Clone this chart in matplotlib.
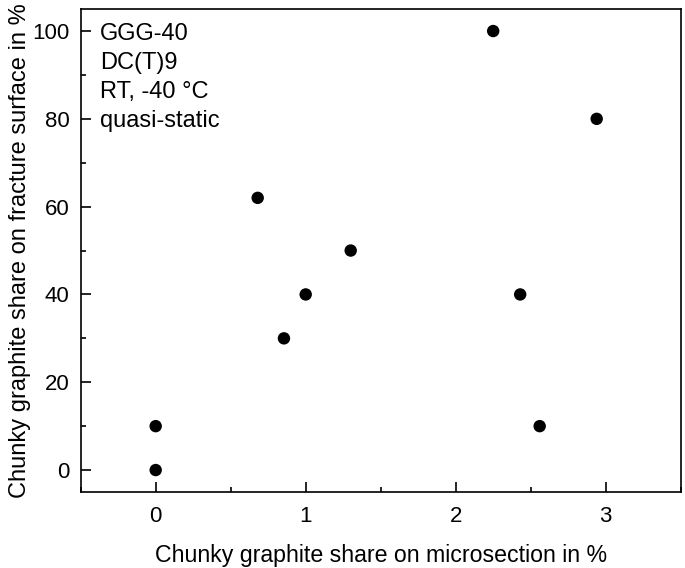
import numpy as np
import matplotlib
matplotlib.use("Agg")
import matplotlib.pyplot as plt
from matplotlib.ticker import MultipleLocator

# data
microsection = [0.0, 0.0, 0.68, 0.855, 1.0, 1.30, 2.25, 2.43, 2.56, 2.94]
fracture = [0, 10, 62, 30, 40, 50, 100, 40, 10, 80]
info_lines = ["GGG-40", "DC(T)9", "RT, -40 °C", "quasi-static"]

plt.rcParams["font.family"] = ["Liberation Sans", "DejaVu Sans"]
plt.rcParams["font.size"] = 17

fig = plt.figure(figsize=(6.85, 5.68), dpi=100)
ax = fig.add_axes([0.1178, 0.1338, 0.8759, 0.8502])

ax.scatter(microsection, fracture, s=80, color="black", edgecolors="none", zorder=3)

ax.set_xlim(-0.5, 3.5)
ax.set_ylim(-5, 105)
ax.xaxis.set_major_locator(MultipleLocator(1))
ax.xaxis.set_minor_locator(MultipleLocator(0.5))
ax.yaxis.set_major_locator(MultipleLocator(20))
ax.yaxis.set_minor_locator(MultipleLocator(10))

ax.tick_params(axis="both", which="major", direction="in", length=7, width=1.2, labelsize=16)
ax.tick_params(axis="both", which="minor", direction="in", length=3.5, width=1.2)
ax.tick_params(axis="x", which="major", pad=10)
ax.tick_params(axis="y", which="major", pad=8)
for s in ax.spines.values():
    s.set_linewidth(1.2)

ax.set_xlabel("Chunky graphite share on microsection in %", fontsize=16.7, labelpad=12)
ax.set_ylabel("Chunky graphite share on fracture surface in %", labelpad=1)

for i, line in enumerate(info_lines):
    ax.text(0.032, 0.937 - i * 0.0607, line, transform=ax.transAxes,
            ha="left", va="baseline", fontsize=17)

fig.savefig("out.png", dpi=100)
